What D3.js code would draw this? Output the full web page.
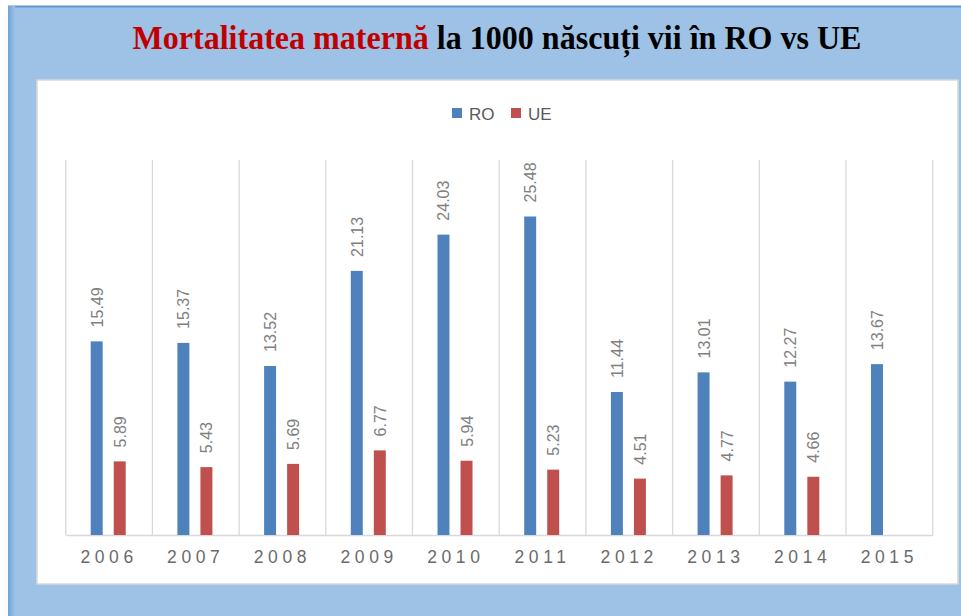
<!DOCTYPE html>
<html><head><meta charset="utf-8">
<script src="https://cdn.jsdelivr.net/npm/d3@7/dist/d3.min.js"></script>
<style>body{margin:0;background:#fff}svg{display:block}</style>
</head><body>
<svg id="c" width="961" height="616"></svg>
<script>
const years = ["2006","2007","2008","2009","2010","2011","2012","2013","2014","2015"];
const seriesNames = ["RO","UE"];
const roValues = [15.49,15.37,13.52,21.13,24.03,25.48,11.44,13.01,12.27,13.67];
const ueValues = [5.89,5.43,5.69,6.77,5.94,5.23,4.51,4.77,4.66,null];
const colors = ["#4f81bd","#c0504d"];
const yMax = 30;

const svg = d3.select("#c");
const defs = svg.append("defs");
const lg = defs.append("linearGradient").attr("id","lg").attr("x1","0").attr("x2","1");
lg.append("stop").attr("offset","0").attr("stop-color","#6fa3d9");
lg.append("stop").attr("offset","1").attr("stop-color","#9dc2e5");

// outer frame
svg.append("rect").attr("x",8).attr("y",6).attr("width",953).attr("height",610).attr("fill","#9dc2e5");
svg.append("line").attr("x1",8).attr("x2",961).attr("y1",6.5).attr("y2",6.5).attr("stroke","#5d97d1").attr("stroke-width",2);
svg.append("rect").attr("x",8).attr("y",6).attr("width",7).attr("height",610).attr("fill","url(#lg)");

// title
const title = svg.append("text").attr("x",497).attr("y",49).attr("text-anchor","middle")
  .attr("font-family","Liberation Serif, Times New Roman, serif").attr("font-weight","bold")
  .attr("font-size",34).attr("textLength",729).attr("lengthAdjust","spacingAndGlyphs");
title.append("tspan").attr("fill","#c00000").text("Mortalitatea maternă");
title.append("tspan").attr("fill","#000").text(" la 1000 născuți vii în RO vs UE");

// white panel
svg.append("rect").attr("x",37).attr("y",80).attr("width",921).attr("height",504)
  .attr("fill","#fff").attr("stroke","#d9d9d9").attr("stroke-width",1.5);

const x = d3.scaleBand().domain(years).range([65.7,932.7]).paddingInner(0).paddingOuter(0);
const x1 = d3.scaleBand().domain(seriesNames).range([25,60]).paddingInner(0.48);
const y = d3.scaleLinear().domain([0,yMax]).range([535,160]);

// gridlines (vertical category separators)
const g = svg.append("g");
const bounds = years.map(d=>x(d)).concat([x.range()[1]]);
g.selectAll("line.grid").data(bounds).enter().append("line")
  .attr("x1",d=>d).attr("x2",d=>d).attr("y1",y(yMax)).attr("y2",y(0))
  .attr("stroke","#d9d9d9").attr("stroke-width",1.3);

// x axis
const xAxis = svg.append("g").attr("transform",`translate(0,${y(0)})`)
  .call(d3.axisBottom(x).tickSize(0).tickPadding(16));
xAxis.select(".domain").attr("stroke","#d9d9d9").attr("stroke-width",1.5);
xAxis.selectAll("text").attr("font-family","Liberation Sans, Arial, sans-serif")
  .attr("font-size",17.5).attr("fill","#6b6b6b").attr("letter-spacing","4.6px").attr("dx","0");

// bars
const data = years.map((yr,i)=>({yr, vals:[roValues[i],ueValues[i]]}));
const groups = svg.append("g").selectAll("g").data(data).enter().append("g")
  .attr("transform",d=>`translate(${x(d.yr)},0)`);
groups.selectAll("rect").data(d=>d.vals.map((v,j)=>({v,s:seriesNames[j],j})).filter(e=>e.v!=null))
  .enter().append("rect")
  .attr("x",e=>x1(e.s)).attr("width",x1.bandwidth())
  .attr("y",e=>y(e.v)).attr("height",e=>y(0)-y(e.v)).attr("fill",e=>colors[e.j]);
groups.selectAll("text").data(d=>d.vals.map((v,j)=>({v,s:seriesNames[j],j})).filter(e=>e.v!=null))
  .enter().append("text")
  .attr("transform",e=>`translate(${x1(e.s)+x1.bandwidth()/2+6},${y(e.v)-14}) rotate(-90)`)
  .attr("font-family","Liberation Sans, Arial, sans-serif").attr("font-size",16).attr("fill","#808080")
  .text(e=>e.v.toFixed(2));

// legend
const leg = svg.append("g");
const legX = [452,511];
seriesNames.forEach((s,i)=>{
  leg.append("rect").attr("x",legX[i]).attr("y",108).attr("width",10).attr("height",10).attr("fill",colors[i]);
  leg.append("text").attr("x",legX[i]+17).attr("y",120).attr("font-family","Liberation Sans, Arial, sans-serif")
    .attr("font-size",17).attr("fill","#595959").text(s);
});
</script>
</body></html>
